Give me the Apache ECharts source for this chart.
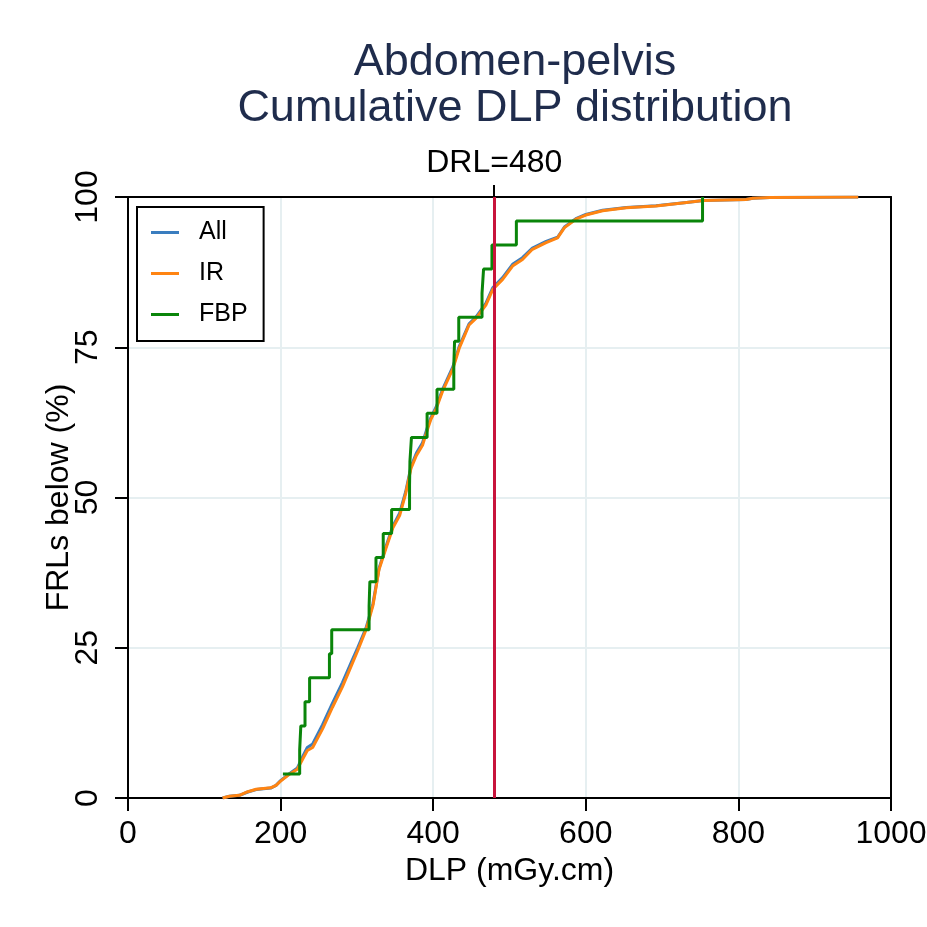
<!DOCTYPE html>
<html>
<head>
<meta charset="utf-8">
<script src="https://cdn.jsdelivr.net/npm/echarts@6/dist/echarts.min.js"></script>
<style>
html,body{margin:0;padding:0;background:#fff;}
#chart{width:927px;height:927px;}
</style>
</head>
<body>
<div id="chart"></div>
<script>
// ---- data ----
const titleLines = ['Abdomen-pelvis', 'Cumulative DLP distribution'];
const xTitle = 'DLP (mGy.cm)';
const yTitle = 'FRLs below (%)';
const drlValue = 480;
const drlLabel = 'DRL=480';
const seriesNames = ['All', 'IR', 'FBP'];

const allDLP = [124,133,146,157,168,187,194,200,211,222,229,235,242,255,268,281,294,301,312,321,329,338,347,356,364,371,378,386,393,397,404,412,426,434,447,456,469,478,491,504,517,530,548,563,572,587,600,622,653,692,732,754,810,819,841,957];
const allPct = [0,0.3,0.45,1.0,1.4,1.65,2.1,2.9,4.0,5.0,6.9,8.4,9.0,12.2,15.8,19.2,23.0,25.0,28.3,32.3,38.2,41.8,45.2,47.4,51.0,55.2,57.4,59.1,61.9,63.3,65.1,67.9,71.8,75.1,78.9,80.0,82.3,84.9,86.6,88.8,89.9,91.5,92.6,93.3,95.0,96.4,97.1,97.8,98.25,98.55,99.1,99.4,99.6,99.8,99.9,100];

const irDLP = [124,133,146,157,168,187,194,200,211,222,229,235,242,255,268,281,294,301,312,321,329,338,347,356,364,371,378,386,393,397,404,412,426,434,447,456,469,478,491,504,517,530,548,563,572,587,600,622,653,692,732,754,810,819,841,957];
const irPct = [0,0.3,0.45,1.05,1.45,1.7,2.1,2.8,3.9,4.8,6.5,7.9,8.4,11.5,15.1,18.5,22.4,24.5,28,32,38,41.5,44.9,47,50.7,54.9,57,58.7,61.5,63,64.8,67.6,71.5,74.8,78.7,79.8,82,84.6,86.3,88.5,89.6,91.3,92.4,93.2,94.9,96.3,97,97.7,98.2,98.5,99.1,99.4,99.6,99.8,99.9,100];

const fbpDLP = [203,225,226.5,232,238,264,267,316,317,325,334.5,345.5,369,369.5,371.5,392,405,427,428,433.5,464,466,477,509,753];
const fbpPct = [4,8,12,16,20,24,28,32,36,40,44,48,52,56,60,64,68,72,76,80,84,88,92,96,100];

const xTicks = {min: 0, max: 1000, interval: 200};
const yTicks = {min: 0, max: 100, interval: 25};

// ---- build ----
const zip = (a, b) => a.map((v, i) => [v, b[i]]);
const FONT = 'Liberation Sans, Arial, Helvetica, sans-serif';
const colors = ['#3a7dbf', '#ff8412', '#0a850a'];

const chart = echarts.init(document.getElementById('chart'), null, {renderer: 'canvas'});
const axisLineStyle = {color: '#000', width: 2};

chart.setOption({
  animation: false,
  backgroundColor: '#fff',
  title: {
    text: titleLines.join('\n'),
    left: 510,
    textAlign: 'center',
    top: 35,
    textStyle: {fontFamily: FONT, fontSize: 45, fontWeight: 'normal', color: '#1f2c4c', lineHeight: 46}
  },
  legend: {
    orient: 'vertical',
    left: 137,
    top: 207,
    data: seriesNames,
    icon: 'rect',
    itemWidth: 28,
    itemHeight: 3,
    itemGap: 16,
    padding: [13, 16, 14, 14],
    borderColor: '#000',
    borderWidth: 2,
    borderRadius: 0,
    backgroundColor: '#fff',
    textStyle: {fontFamily: FONT, fontSize: 25, color: '#000', padding: [0, 0, 0, 15]}
  },
  grid: {left: 128, right: 36, top: 197, bottom: 129, containLabel: false, outerBoundsMode: 'none'},
  xAxis: [{
    type: 'value', position: 'bottom',
    min: xTicks.min, max: xTicks.max, interval: xTicks.interval,
    name: xTitle, nameLocation: 'middle', nameGap: 54,
    nameTextStyle: {fontFamily: FONT, fontSize: 32, color: '#000'},
    axisLine: {show: true, onZero: false, lineStyle: axisLineStyle},
    axisTick: {show: true, length: 13, lineStyle: axisLineStyle},
    axisLabel: {fontFamily: FONT, fontSize: 32, color: '#000', margin: 20, formatter: v => String(v)},
    splitLine: {show: true, lineStyle: {color: '#e6eff1', width: 2}}
  }, {
    type: 'value', position: 'top',
    min: xTicks.min, max: xTicks.max,
    axisLine: {show: true, onZero: false, lineStyle: axisLineStyle},
    axisTick: {show: true, length: 12, lineStyle: axisLineStyle, customValues: [drlValue]},
    axisLabel: {show: true, fontFamily: FONT, fontSize: 32, color: '#000', margin: 18,
      customValues: [drlValue], formatter: () => drlLabel},
    splitLine: {show: false}
  }],
  yAxis: [{
    type: 'value', position: 'left',
    min: yTicks.min, max: yTicks.max, interval: yTicks.interval,
    name: yTitle, nameLocation: 'middle', nameGap: 53, nameMoveOverlap: false,
    nameTextStyle: {fontFamily: FONT, fontSize: 32, color: '#000'},
    axisLine: {show: true, onZero: false, lineStyle: axisLineStyle},
    axisTick: {show: true, length: 13, lineStyle: axisLineStyle},
    axisLabel: {fontFamily: FONT, fontSize: 32, color: '#000', rotate: 90, margin: 24},
    splitLine: {show: true, lineStyle: {color: '#e6eff1', width: 2}}
  }, {
    type: 'value', position: 'right',
    min: yTicks.min, max: yTicks.max,
    axisLine: {show: true, onZero: false, lineStyle: axisLineStyle},
    axisTick: {show: false}, axisLabel: {show: false}, splitLine: {show: false}
  }],
  series: [{
    name: seriesNames[0], type: 'line', data: zip(allDLP, allPct),
    showSymbol: false, color: colors[0], lineStyle: {width: 3, color: colors[0]}, z: 2
  }, {
    name: seriesNames[1], type: 'line', data: zip(irDLP, irPct),
    showSymbol: false, color: colors[1], lineStyle: {width: 3, color: colors[1]}, z: 3
  }, {
    name: seriesNames[2], type: 'line', data: zip(fbpDLP, fbpPct), step: 'end',
    showSymbol: false, color: colors[2], lineStyle: {width: 3, color: colors[2]}, z: 4,
    markLine: {
      silent: true, symbol: ['none', 'none'],
      label: {show: false},
      lineStyle: {color: '#c8143c', width: 3, type: 'solid'},
      data: [{xAxis: drlValue}]
    }
  }]
});
</script>
</body>
</html>
